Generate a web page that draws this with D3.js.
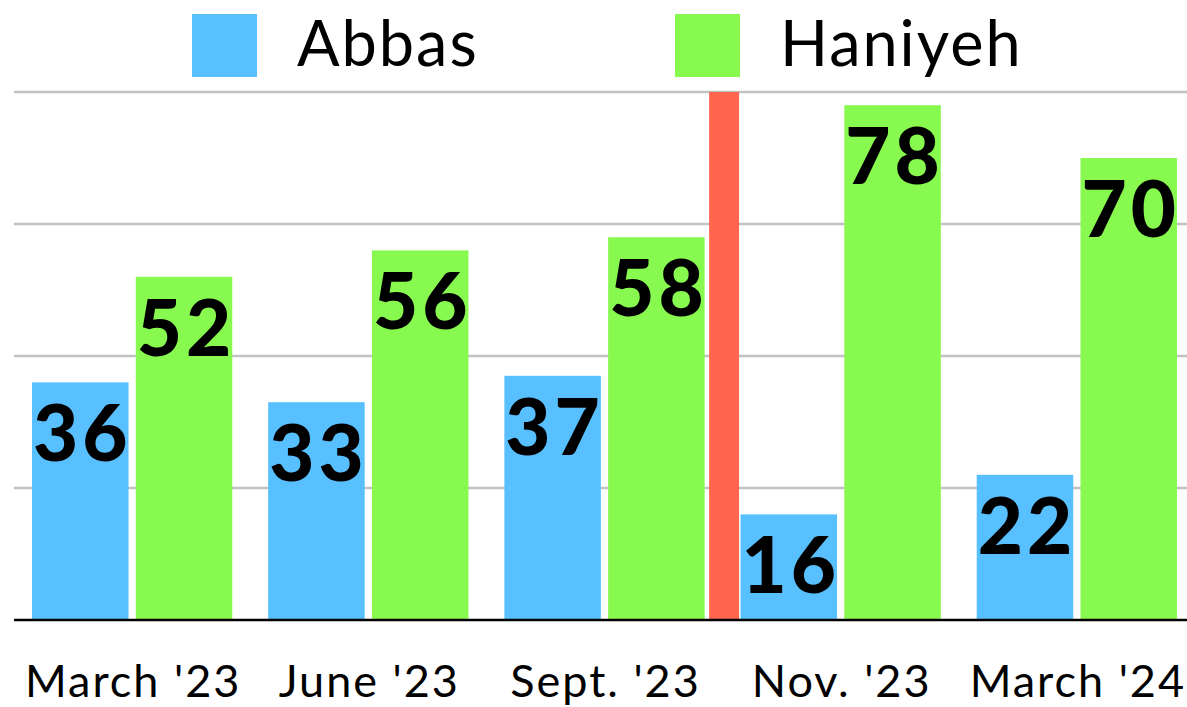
<!DOCTYPE html>
<html>
<head>
<meta charset="utf-8">
<script src="https://cdn.jsdelivr.net/npm/d3@7"></script>
<style>
  html, body { margin: 0; padding: 0; background: #fff; }
  svg { display: block; }
</style>
</head>
<body>
<svg id="chart" width="1187" height="707"></svg>
<script>
const categories = ["March '23", "June '23", "Sept. '23", "Nov. '23", "March '24"];
const seriesNames = ["Abbas", "Haniyeh"];
const abbas = [36, 33, 37, 16, 22];
const haniyeh = [52, 56, 58, 78, 70];
const yTicks = [20, 40, 60, 80];
const colors = ["#58C0FF", "#88F94E"];
const dividerAfter = "Sept. '23";

const svg = d3.select("#chart");
const W = 1187, H = 707;
const font = "Lato, 'Noto Sans', sans-serif";

const x0 = d3.scaleBand().domain(categories).range([32, 1177]).paddingInner(0.152).paddingOuter(0);
const x1 = d3.scaleBand().domain(seriesNames).range([0, x0.bandwidth()]).paddingInner(0.07);
const y = d3.scaleLinear().domain([0, 80]).range([620, 92]);

const values = { Abbas: abbas, Haniyeh: haniyeh };

// gridlines
svg.append("g").selectAll("line").data(yTicks).join("line")
  .attr("x1", 14).attr("x2", W)
  .attr("y1", d => y(d)).attr("y2", d => y(d))
  .attr("stroke", "#c2c2c2").attr("stroke-width", 2.5);

// bars
const groups = svg.append("g").selectAll("g").data(categories).join("g")
  .attr("transform", c => `translate(${x0(c)},0)`);

groups.selectAll("rect").data((c, i) => seriesNames.map((s, k) => ({ s, v: values[s][i], k })))
  .join("rect")
  .attr("x", d => x1(d.s))
  .attr("width", x1.bandwidth())
  .attr("y", d => y(d.v))
  .attr("height", d => y(0) - y(d.v))
  .attr("fill", d => colors[d.k]);

const valLS = 4;
groups.selectAll("text.val").data((c, i) => seriesNames.map((s, k) => ({ s, v: values[s][i], k })))
  .join("text")
  .attr("class", "val")
  .attr("x", d => x1(d.s) + x1.bandwidth() / 2 + valLS / 2)
  .attr("y", d => y(d.v) + 79)
  .attr("text-anchor", "middle")
  .attr("font-family", font)
  .attr("font-weight", 900)
  .attr("font-size", 78)
  .attr("letter-spacing", valLS)
  .attr("fill", "#000")
  .text(d => d.v);

// divider bar
const di = categories.indexOf(dividerAfter);
const endPrev = x0(categories[di]) + x0.bandwidth();
const startNext = x0(categories[di + 1]);
const mid = (endPrev + startNext) / 2 + 1.5;
svg.append("rect")
  .attr("x", mid - 15).attr("width", 30)
  .attr("y", y(80)).attr("height", y(0) - y(80))
  .attr("fill", "#FF6650");

// baseline
svg.append("line")
  .attr("x1", 14).attr("x2", W)
  .attr("y1", y(0)).attr("y2", y(0))
  .attr("stroke", "#000").attr("stroke-width", 2.5);

// x labels
const labLS = 2;
svg.append("g").selectAll("text").data(categories).join("text")
  .attr("x", c => x0(c) + x0.bandwidth() / 2 + labLS / 2)
  .attr("y", 697)
  .attr("text-anchor", "middle")
  .attr("font-family", font)
  .attr("font-size", 45)
  .attr("letter-spacing", labLS)
  .attr("fill", "#000")
  .text(c => c);

// legend
const legendX = [192, 675];
const lg = svg.append("g").selectAll("g").data(seriesNames).join("g")
  .attr("transform", (d, i) => `translate(${legendX[i]},14)`);
lg.append("rect").attr("width", 65).attr("height", 63).attr("fill", (d, i) => colors[i]);
lg.append("text")
  .attr("x", 105).attr("y", 52)
  .attr("font-family", font)
  .attr("font-size", 63)
  .attr("letter-spacing", 2)
  .attr("fill", "#000")
  .text(d => d);
</script>
</body>
</html>
